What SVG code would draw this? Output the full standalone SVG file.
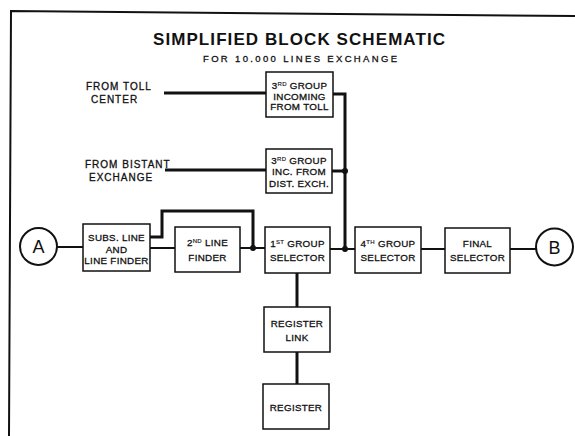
<svg xmlns="http://www.w3.org/2000/svg" width="575" height="436" viewBox="0 0 575 436">
<style>
.box{fill:#fff;stroke:#111;stroke-width:1.5}
.t{font-family:"Liberation Sans",Arial,sans-serif;font-size:9.8px;fill:#111;stroke:#111;stroke-width:0.3;text-anchor:middle;letter-spacing:0.3px}
.l{font-family:"Liberation Sans",Arial,sans-serif;font-size:10px;fill:#111;stroke:#111;stroke-width:0.3;letter-spacing:1px}
.sup{font-size:6px;stroke-width:0.15}
.w{fill:none;stroke:#111;stroke-width:2;stroke-linejoin:miter}
.k{fill:none;stroke:#111;stroke-width:3}
.dot{fill:#111}
</style>
<rect width="575" height="436" fill="#fff"/>
<polyline points="575,16 11,11 9,436" fill="none" stroke="#111" stroke-width="2"/>
<g id="title">
<text x="299" y="45" font-family="'Liberation Sans',Arial,sans-serif" font-size="17" font-weight="bold" text-anchor="middle" textLength="292" lengthAdjust="spacing" fill="#111">SIMPLIFIED BLOCK SCHEMATIC</text>
<text x="300" y="62" font-family="'Liberation Sans',Arial,sans-serif" font-size="9.5" text-anchor="middle" textLength="194" lengthAdjust="spacing" fill="#111" stroke="#111" stroke-width="0.3">FOR 10.000 LINES EXCHANGE</text>
</g>
<g id="connectors">
<line class="k" x1="164" y1="93" x2="266" y2="93"/>
<polyline class="k" points="333,94 345,94 345,249"/>
<line class="k" x1="165" y1="170" x2="266" y2="170"/>
<line class="k" x1="332" y1="171" x2="345" y2="171"/>
<line class="w" x1="57" y1="247" x2="83" y2="247"/>
<line class="w" x1="150" y1="248" x2="175" y2="248"/>
<line class="w" x1="240" y1="248" x2="265" y2="248"/>
<polyline class="k" points="150,237 162,237 162,211 253,211 253,248"/>
<line class="w" x1="330" y1="249" x2="355" y2="249"/>
<line class="w" x1="421" y1="249" x2="445" y2="249"/>
<line class="w" x1="510" y1="249" x2="536" y2="249"/>
<line class="k" x1="297" y1="273" x2="297" y2="307"/>
<line class="k" x1="297" y1="352" x2="297" y2="384"/>
<circle class="dot" cx="345" cy="171" r="3"/>
<circle class="dot" cx="253" cy="248" r="3"/>
<circle class="dot" cx="345" cy="249" r="3"/>
</g>
<g id="from-toll">
<text class="l" x="86" y="90">FROM TOLL</text>
<text class="l" x="91" y="103">CENTER</text>
</g>
<g id="from-distant">
<text class="l" x="85" y="168">FROM BISTANT</text>
<text class="l" x="89" y="181">EXCHANGE</text>
</g>
<g id="third-toll">
<rect class="box" x="266" y="72" width="67" height="45"/>
<text class="t" x="299.5" y="88.5">3<tspan class="sup" dy="-3">RD</tspan><tspan dy="3"> GROUP</tspan></text>
<text class="t" x="299.5" y="99.5">INCOMING</text>
<text class="t" x="299.5" y="110">FROM TOLL</text>
</g>
<g id="third-distant">
<rect class="box" x="266" y="149" width="66" height="44"/>
<text class="t" x="299" y="163.5">3<tspan class="sup" dy="-3">RD</tspan><tspan dy="3"> GROUP</tspan></text>
<text class="t" x="299" y="174.5">INC. FROM</text>
<text class="t" x="299" y="186.5">DIST. EXCH.</text>
</g>
<g id="A">
<circle cx="38.5" cy="246.5" r="18.5" fill="#fff" stroke="#111" stroke-width="2"/>
<text x="38.5" y="253" font-family="'Liberation Sans',Arial,sans-serif" font-size="18" text-anchor="middle" fill="#111">A</text>
</g>
<g id="subs">
<rect class="box" x="83" y="224" width="67" height="47"/>
<text class="t" x="116.5" y="240.5">SUBS. LINE</text>
<text class="t" x="116.5" y="252.5">AND</text>
<text class="t" x="116.5" y="263.5">LINE FINDER</text>
</g>
<g id="second-finder">
<rect class="box" x="175" y="227" width="65" height="45"/>
<text class="t" x="207.5" y="245.5">2<tspan class="sup" dy="-3">ND</tspan><tspan dy="3"> LINE</tspan></text>
<text class="t" x="207.5" y="260.5">FINDER</text>
</g>
<g id="first-group">
<rect class="box" x="265" y="227" width="65" height="46"/>
<text class="t" x="297.5" y="246.5">1<tspan class="sup" dy="-3">ST</tspan><tspan dy="3"> GROUP</tspan></text>
<text class="t" x="297.5" y="260.5">SELECTOR</text>
</g>
<g id="fourth-group">
<rect class="box" x="355" y="227" width="66" height="46"/>
<text class="t" x="388" y="246.5">4<tspan class="sup" dy="-3">TH</tspan><tspan dy="3"> GROUP</tspan></text>
<text class="t" x="388" y="260.5">SELECTOR</text>
</g>
<g id="final">
<rect class="box" x="445" y="228" width="65" height="45"/>
<text class="t" x="477.5" y="246.5">FINAL</text>
<text class="t" x="477.5" y="261">SELECTOR</text>
</g>
<g id="B">
<circle cx="554.5" cy="247" r="18.5" fill="#fff" stroke="#111" stroke-width="2"/>
<text x="554.5" y="253.5" font-family="'Liberation Sans',Arial,sans-serif" font-size="18" text-anchor="middle" fill="#111">B</text>
</g>
<g id="register-link">
<rect class="box" x="264" y="307" width="66" height="45"/>
<text class="t" x="297" y="326.5">REGISTER</text>
<text class="t" x="297" y="340.5">LINK</text>
</g>
<g id="register">
<rect class="box" x="263" y="384" width="66" height="45"/>
<text class="t" x="296" y="410.5">REGISTER</text>
</g>
</svg>
